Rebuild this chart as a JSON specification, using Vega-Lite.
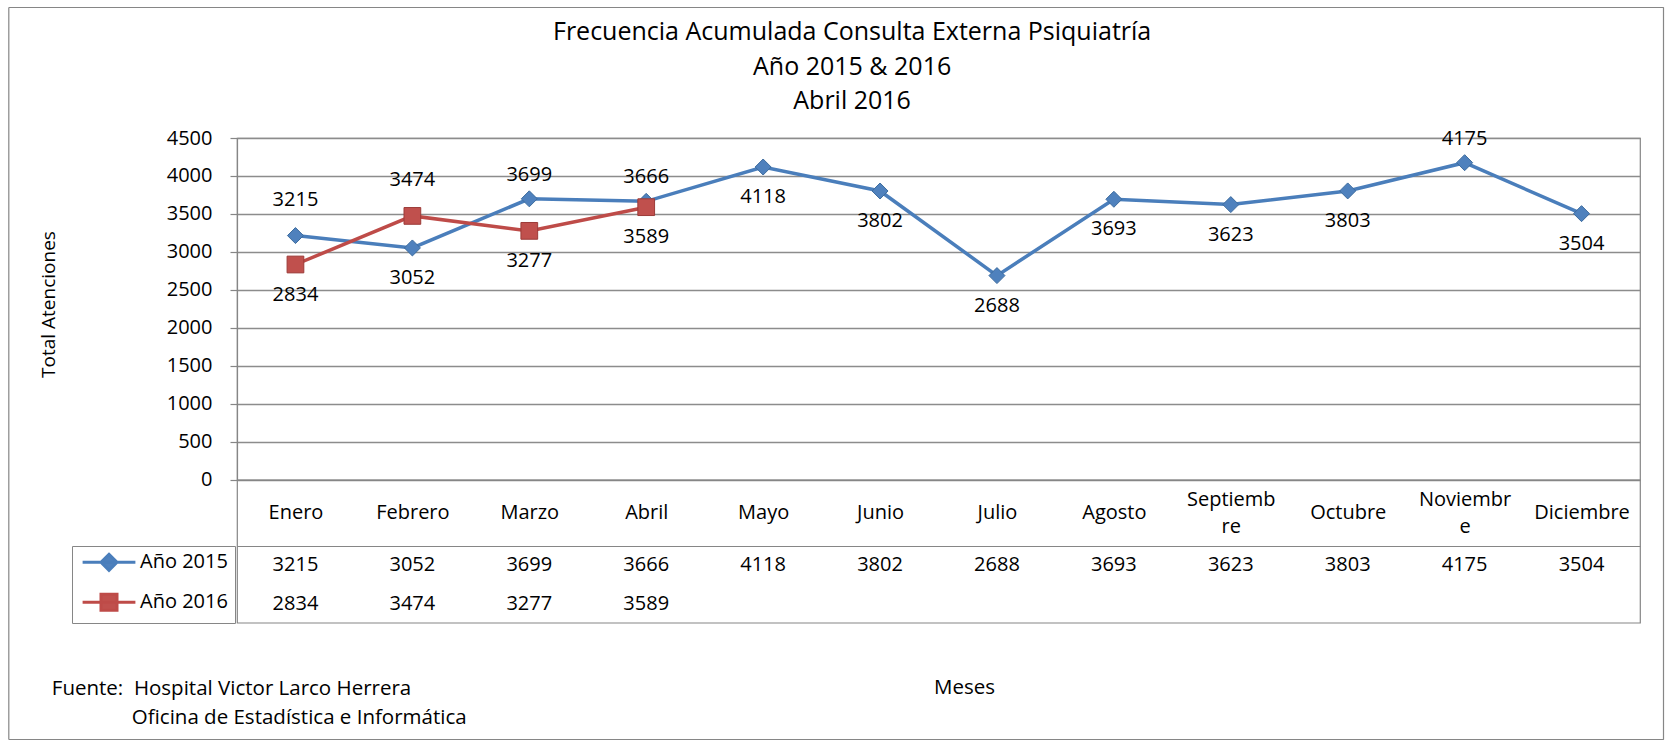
{
  "$schema": "https://vega.github.io/schema/vega-lite/v6.json",
  "padding": {"left": 8, "top": 7, "right": 5, "bottom": 5},
  "background": "white",
  "config": {
    "font": "Open Sans",
    "view": {"stroke": "#868686", "strokeWidth": 1.2},
    "title": {"color": "black", "fontWeight": "normal"},
    "axis": {"labelColor": "black", "titleColor": "black", "titleFontWeight": "normal", "labelFont": "Open Sans", "titleFont": "Open Sans"}
  },
  "datasets": {
    "tabla": [
      {"mes": "Enero", "serie": "Año 2015", "valor": 3215},
      {"mes": "Febrero", "serie": "Año 2015", "valor": 3052},
      {"mes": "Marzo", "serie": "Año 2015", "valor": 3699},
      {"mes": "Abril", "serie": "Año 2015", "valor": 3666},
      {"mes": "Mayo", "serie": "Año 2015", "valor": 4118},
      {"mes": "Junio", "serie": "Año 2015", "valor": 3802},
      {"mes": "Julio", "serie": "Año 2015", "valor": 2688},
      {"mes": "Agosto", "serie": "Año 2015", "valor": 3693},
      {"mes": "Septiembre", "serie": "Año 2015", "valor": 3623},
      {"mes": "Octubre", "serie": "Año 2015", "valor": 3803},
      {"mes": "Noviembre", "serie": "Año 2015", "valor": 4175},
      {"mes": "Diciembre", "serie": "Año 2015", "valor": 3504},
      {"mes": "Enero", "serie": "Año 2016", "valor": 2834},
      {"mes": "Febrero", "serie": "Año 2016", "valor": 3474},
      {"mes": "Marzo", "serie": "Año 2016", "valor": 3277},
      {"mes": "Abril", "serie": "Año 2016", "valor": 3589}
    ]
  },
  "bounds": "flush",
  "spacing": 0,
  "vconcat": [
    {
      "width": 1403,
      "height": 130.3,
      "view": {"stroke": null},
      "title": {
        "text": ["Frecuencia Acumulada Consulta Externa Psiquiatría", "Año 2015 & 2016", "Abril 2016"],
        "orient": "top", "anchor": "middle", "frame": "group", "baseline": "middle",
        "offset": -119, "dx": -86.4, "fontSize": 25, "lineHeight": 34.5, "color": "black", "fontWeight": "normal"
      },
      "resolve": {"scale": {"x": "independent", "y": "independent"}, "axis": {"x": "independent", "y": "independent"}},
      "layer": [
        {
          "data": {"values": []},
          "mark": "point",
          "encoding": {
            "x": {"field": "u", "type": "quantitative", "scale": {"domain": [0, 1], "range": [-228.7, 1426.3]},
                  "axis": {"orient": "top", "labels": false, "ticks": false, "grid": false, "title": null, "domainColor": "#868686", "domainWidth": 1.2}},
            "y": {"field": "v", "type": "quantitative", "scale": {"domain": [0, 1], "range": [732, 0]},
                  "axis": {"orient": "left", "offset": 228.7, "labels": false, "ticks": false, "grid": false, "title": null, "domainColor": "#868686", "domainWidth": 1.2}}
          }
        },
        {
          "data": {"values": []},
          "mark": "point",
          "encoding": {
            "x": {"field": "u", "type": "quantitative", "scale": {"domain": [0, 1], "range": [-228.7, 1426.3]},
                  "axis": {"orient": "bottom", "offset": 601.7, "labels": false, "ticks": false, "grid": false, "title": null, "domainColor": "#868686", "domainWidth": 1.2}},
            "y": {"field": "v", "type": "quantitative", "scale": {"domain": [0, 1], "range": [732, 0]},
                  "axis": {"orient": "right", "offset": 23, "labels": false, "ticks": false, "grid": false, "title": null, "domainColor": "#868686", "domainWidth": 1.2}}
          }
        }
      ]
    },
    {
      "data": {"name": "tabla"},
      "width": 1403,
      "height": 341.7,
      "encoding": {
        "x": {
          "field": "mes", "type": "nominal",
          "sort": ["Enero", "Febrero", "Marzo", "Abril", "Mayo", "Junio", "Julio", "Agosto", "Septiembre", "Octubre", "Noviembre", "Diciembre"],
          "scale": {"type": "point", "padding": 0.5},
          "axis": {
            "domain": false, "ticks": false, "tickSize": 0, "grid": false,
            "labelAngle": 0, "labelBaseline": "middle", "labelLineHeight": 27,
            "labelPadding": {"condition": {"test": "indexof(['Septiembre', 'Noviembre'], datum.value) >= 0", "value": 19.5}, "value": 33},
            "labelFontSize": 20, "labelOverlap": false, "labelLimit": 0,
            "labelExpr": "datum.label == 'Septiembre' ? ['Septiemb', 're'] : datum.label == 'Noviembre' ? ['Noviembr', 'e'] : datum.label",
            "title": "Oficina de Estadística e Informática",
            "titleX": -105.7, "titleY": 238, "titleAlign": "left", "titleBaseline": "middle", "titleAngle": 0, "titleFontSize": 20.5
          }
        },
        "y": {
          "field": "valor", "type": "quantitative",
          "scale": {"domain": [0, 4500], "nice": false},
          "axis": {
            "values": [0, 500, 1000, 1500, 2000, 2500, 3000, 3500, 4000, 4500], "format": "d",
            "title": "Total Atenciones", "titleX": -189, "titleY": 166, "titleBaseline": "middle",
            "titleAlign": "center", "titleAngle": -90, "titleFontSize": 19,
            "labelFontSize": 20, "labelPadding": 18, "tickSize": 7, "tickColor": "#868686", "tickWidth": 1.2,
            "domainColor": "#868686", "domainWidth": 1.2,
            "grid": true, "gridColor": "#8c8c8c", "gridWidth": 1.5
          }
        }
      },
      "layer": [
        {
          "mark": {"type": "line", "strokeWidth": 3.5},
          "encoding": {
            "color": {
              "field": "serie", "type": "nominal",
              "scale": {"domain": ["Año 2015", "Año 2016"], "range": ["#4A7EBB", "#BE4B48"]},
              "legend": {
                "orient": "none", "legendX": -165, "legendY": 539, "title": null,
                "padding": 6.35, "strokeColor": "#868686", "rowPadding": 12,
                "labelFontSize": 20, "labelColor": "black", "labelFont": "Open Sans",
                "symbolType": "M-3.3,0H3.3M0,-1L1,0L0,1L-1,0Z",
                "symbolSize": 256, "symbolOffset": 20.65, "labelOffset": 21, "symbolStrokeWidth": 3,
                "encode": {
                  "symbols": {
                    "update": {
                      "shape": {"signal": "datum.value === 'Año 2015' ? 'M-3.3,0H3.3M0,-1L1,0L0,1L-1,0Z' : 'M-3.3,0H3.3M-1,-1H1V1H-1Z'"},
                      "fill": {"signal": "datum.value === 'Año 2015' ? '#4F81BD' : '#C0504D'"},
                      "stroke": {"signal": "datum.value === 'Año 2015' ? '#4A7EBB' : '#BE4B48'"},
                      "strokeWidth": {"value": 3},
                      "size": {"value": 256},
                      "opacity": {"value": 1}
                    }
                  }
                }
              }
            }
          }
        },
        {
          "transform": [{"filter": "datum.serie == 'Año 2015'"}],
          "mark": {"type": "point", "shape": "diamond", "filled": true, "fill": "#4F81BD", "stroke": "#3D6C9E", "strokeWidth": 1, "size": 256, "opacity": 1}
        },
        {
          "transform": [{"filter": "datum.serie == 'Año 2016'"}],
          "mark": {"type": "point", "shape": "square", "filled": true, "fill": "#C0504D", "stroke": "#9C3B38", "strokeWidth": 1, "size": 280, "opacity": 1}
        },
        {
          "transform": [{"filter": "(datum.serie == 'Año 2015' && datum.mes == 'Enero') || (datum.serie == 'Año 2016' && datum.mes == 'Febrero')"}],
          "mark": {"type": "text", "dy": -36, "fontSize": 20, "color": "black", "baseline": "middle"},
          "encoding": {"text": {"field": "valor", "type": "quantitative", "format": "d"}}
        },
        {
          "transform": [{"filter": "datum.serie == 'Año 2015' && indexof(['Marzo', 'Abril', 'Noviembre'], datum.mes) >= 0"}],
          "mark": {"type": "text", "dy": -24, "fontSize": 20, "color": "black", "baseline": "middle"},
          "encoding": {"text": {"field": "valor", "type": "quantitative", "format": "d"}}
        },
        {
          "transform": [{"filter": "!((datum.serie == 'Año 2015' && indexof(['Enero', 'Marzo', 'Abril', 'Noviembre'], datum.mes) >= 0) || (datum.serie == 'Año 2016' && datum.mes == 'Febrero'))"}],
          "mark": {"type": "text", "dy": 30, "fontSize": 20, "color": "black", "baseline": "middle"},
          "encoding": {"text": {"field": "valor", "type": "quantitative", "format": "d"}}
        }
      ]
    },
    {
      "data": {"name": "tabla"},
      "width": 1403,
      "height": 142.7,
      "mark": {"type": "text", "fontSize": 20, "color": "black", "baseline": "middle"},
      "encoding": {
        "x": {
          "field": "mes", "type": "nominal",
          "sort": ["Enero", "Febrero", "Marzo", "Abril", "Mayo", "Junio", "Julio", "Agosto", "Septiembre", "Octubre", "Noviembre", "Diciembre"],
          "scale": {"type": "band", "paddingInner": 0, "paddingOuter": 0},
          "axis": {
            "orient": "bottom", "labels": false, "ticks": false, "domain": false, "grid": false,
            "title": "Meses", "titleX": 727, "titleY": 65, "titleBaseline": "middle", "titleAlign": "center", "titleFontSize": 20.5
          }
        },
        "y": {
          "field": "serie", "type": "nominal",
          "scale": {"type": "band", "domain": ["Año 2015", "Año 2016"], "range": [66, 142.7], "paddingInner": 0, "paddingOuter": 0},
          "axis": {
            "labels": false, "ticks": false, "domain": false, "grid": true, "values": ["Año 2015"],
            "bandPosition": 0, "gridColor": "#868686", "gridWidth": 1.2,
            "title": "Fuente:\u00a0 Hospital Victor Larco Herrera",
            "titleX": -185.7, "titleY": 208, "titleAlign": "left", "titleBaseline": "middle", "titleAngle": 0, "titleFontSize": 20.5
          }
        },
        "text": {"field": "valor", "type": "quantitative", "format": "d"}
      }
    }
  ]
}
